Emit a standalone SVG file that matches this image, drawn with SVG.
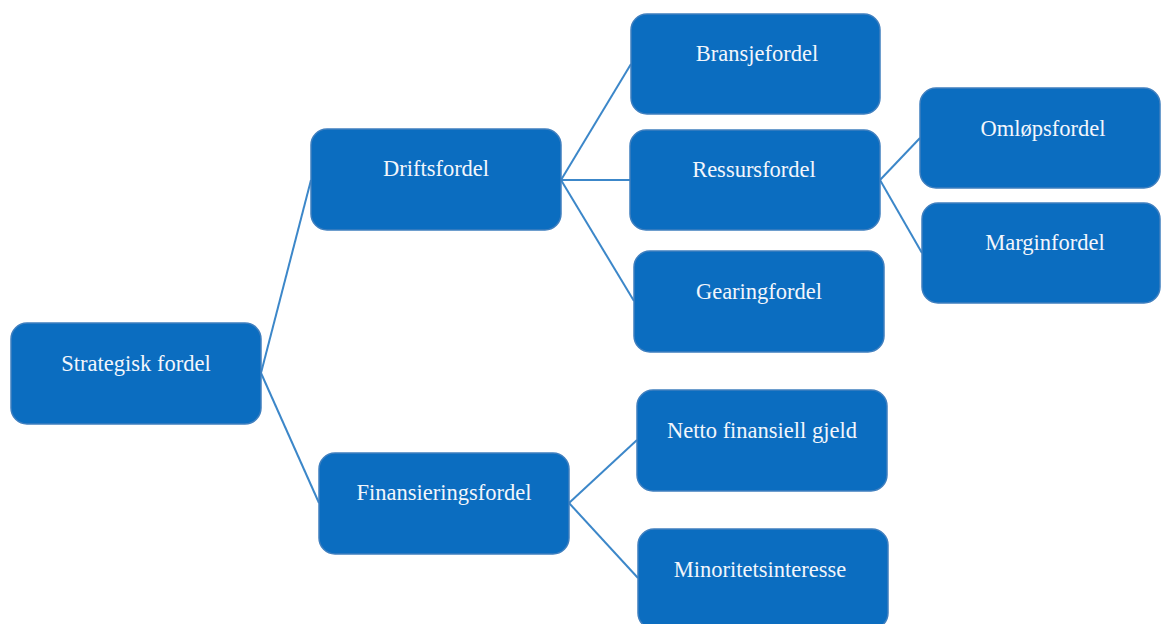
<svg xmlns="http://www.w3.org/2000/svg" width="1161" height="624" viewBox="0 0 1161 624">
<style>
.box{fill:#0B6DC0;stroke:#3F7FBF;stroke-width:1.5}
.lbl{font-family:"Liberation Serif","Times New Roman",serif;font-size:22.5px;fill:#F2F6FC;text-anchor:middle}
.c{stroke:#3C87C9;stroke-width:2;fill:none}
</style>
<rect width="1161" height="624" fill="#FFFFFF"/>
<g id="connectors">
<line class="c" x1="261" y1="373" x2="311" y2="180"/>
<line class="c" x1="261" y1="373" x2="319" y2="503"/>
<line class="c" x1="561" y1="180" x2="631" y2="64"/>
<line class="c" x1="561" y1="180" x2="631" y2="180"/>
<line class="c" x1="561" y1="180" x2="634" y2="301"/>
<line class="c" x1="880" y1="180" x2="920" y2="138"/>
<line class="c" x1="880" y1="180" x2="922" y2="253"/>
<line class="c" x1="569" y1="503" x2="637" y2="440"/>
<line class="c" x1="569" y1="503" x2="638" y2="578"/>
</g>
<g id="strategisk"><rect class="box" x="11" y="323" width="250" height="101" rx="16"/><text class="lbl" x="136" y="371">Strategisk fordel</text></g>
<g id="drifts"><rect class="box" x="311" y="129" width="250" height="101" rx="16"/><text class="lbl" x="436" y="176">Driftsfordel</text></g>
<g id="finans"><rect class="box" x="319" y="453" width="250" height="101" rx="16"/><text class="lbl" x="444" y="500">Finansieringsfordel</text></g>
<g id="bransje"><rect class="box" x="631" y="14" width="249" height="100" rx="16"/><text class="lbl" x="757" y="61">Bransjefordel</text></g>
<g id="ressurs"><rect class="box" x="630" y="130" width="250" height="100" rx="16"/><text class="lbl" x="754" y="177">Ressursfordel</text></g>
<g id="gearing"><rect class="box" x="634" y="251" width="250" height="101" rx="16"/><text class="lbl" x="759" y="299">Gearingfordel</text></g>
<g id="omlops"><rect class="box" x="920" y="88" width="240" height="100" rx="16"/><text class="lbl" x="1043" y="136">Omløpsfordel</text></g>
<g id="margin"><rect class="box" x="922" y="203" width="238" height="100" rx="16"/><text class="lbl" x="1045" y="250">Marginfordel</text></g>
<g id="netto"><rect class="box" x="637" y="390" width="250" height="101" rx="16"/><text class="lbl" x="762" y="438">Netto finansiell gjeld</text></g>
<g id="minoritet"><rect class="box" x="638" y="529" width="250" height="100" rx="16"/><text class="lbl" x="760" y="577">Minoritetsinteresse</text></g>
</svg>
